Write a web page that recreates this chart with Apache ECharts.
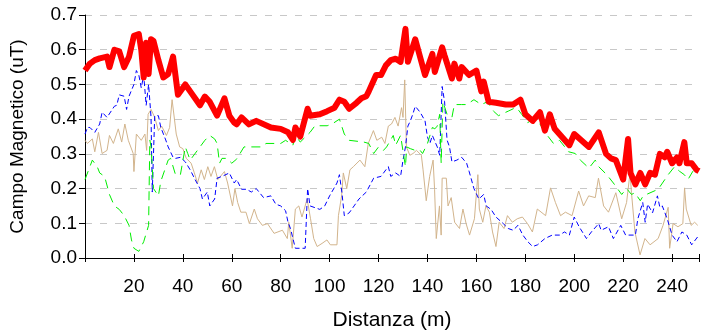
<!DOCTYPE html>
<html>
<head>
<meta charset="utf-8">
<script src="https://cdn.jsdelivr.net/npm/echarts@6/dist/echarts.min.js"></script>
<style>
html,body{margin:0;padding:0;background:#fff;}
#chart{width:702px;height:336px;}
</style>
</head>
<body>
<div id="chart"></div>
<script>
// ---- data (distance m, field uT) ----
var redX = [0,1,2,4,6,9,10,12,14,16,18,20,22,23,24,25,26,27,28,30,32,34,36,38,41,43,47,49,51,54,57,59,61,62,64,67,70,76,80,83,85,86,88,91,92,96,99,102,104,106,108,111,113,115,116,119,121,123,125,127,129,131,132,135,139,142,143,146,147,150,151,153,154,157,160,162,163,165,168,172,175,178,180,183,186,188,190,192,198,200,206,210,213,215,217,220,222,223,225,227,229,231,233,235,237,238,240,242,243,245,246,248,250,251];
var redY = [0.54,0.55,0.56,0.57,0.575,0.58,0.55,0.60,0.595,0.55,0.58,0.64,0.645,0.60,0.52,0.62,0.53,0.63,0.625,0.57,0.52,0.53,0.58,0.47,0.50,0.48,0.44,0.465,0.45,0.41,0.46,0.41,0.39,0.385,0.405,0.385,0.395,0.376,0.372,0.362,0.34,0.376,0.35,0.43,0.41,0.414,0.423,0.433,0.456,0.45,0.43,0.447,0.46,0.466,0.48,0.527,0.527,0.555,0.57,0.574,0.565,0.66,0.565,0.63,0.527,0.588,0.536,0.607,0.583,0.517,0.56,0.517,0.55,0.527,0.54,0.48,0.508,0.45,0.447,0.442,0.442,0.456,0.414,0.395,0.42,0.367,0.414,0.372,0.325,0.357,0.32,0.362,0.30,0.287,0.282,0.226,0.343,0.245,0.212,0.245,0.212,0.245,0.24,0.30,0.29,0.306,0.273,0.29,0.273,0.334,0.273,0.273,0.254,0.25];

var blueX = [0,1,2,4,6,7,9,12,13,14,16,17,18,20,21,22,23,24,25,26,27,27.5,28.5,30,31,33,34,36,37,39,41,43,45,47,48,50,51,53,54,56,59,61,62,64,66,68,70,73,76,78,80,82,83,84,85,86,88,90,91,92,96,98,100,103,104,105,106,108,110,112,115,118,121,123,124,125,127,129,130,131,132,133,134,135,137,139,140,141,142,144,145,146,147,148,149,150,152,154,156,157,159,161,163,164,166,168,171,173,175,177,179,181,183,185,188,191,194,196,198,200,202,205,207,210,211,214,216,219,221,225,226,228,229,230,232,234,235,236,238,240,242,244,246,248,251];
var blueY = [0.357,0.376,0.376,0.362,0.386,0.42,0.405,0.437,0.44,0.47,0.466,0.428,0.466,0.50,0.54,0.527,0.49,0.527,0.44,0.50,0.405,0.19,0.41,0.41,0.376,0.34,0.32,0.29,0.287,0.29,0.277,0.254,0.226,0.20,0.17,0.19,0.15,0.17,0.23,0.235,0.245,0.216,0.226,0.198,0.198,0.19,0.20,0.174,0.179,0.155,0.15,0.136,0.103,0.085,0.056,0.028,0.028,0.028,0.20,0.15,0.14,0.15,0.179,0.216,0.24,0.19,0.122,0.13,0.15,0.17,0.19,0.23,0.235,0.254,0.263,0.235,0.245,0.235,0.282,0.32,0.38,0.395,0.414,0.437,0.42,0.395,0.348,0.33,0.353,0.32,0.296,0.494,0.45,0.34,0.32,0.277,0.282,0.29,0.273,0.25,0.20,0.17,0.183,0.15,0.14,0.118,0.099,0.085,0.08,0.094,0.066,0.047,0.033,0.038,0.056,0.066,0.066,0.075,0.066,0.118,0.09,0.056,0.075,0.099,0.08,0.09,0.056,0.094,0.066,0.066,0.113,0.16,0.103,0.155,0.13,0.179,0.146,0.15,0.113,0.066,0.047,0.075,0.066,0.038,0.066];

var greenX = [0,3,5,6,8,10,12,14,16,18,19,20,22,24,26,26.5,27,28,30,31,34,35,37,39,41,42,43,47,49,51,53,54,55,56,58,60,62,65,72,74,78,80,82,85,86,88,92,94,99,101,104,106,108,114,116,118,120,122,123.3,126,127,129,131,131.5,133,135,137,138,140,142,143,144,145,145.6,146.3,148,150,151,154,156,159,162,164.5,167,169,173,176,177,178.5,181,183,186,187.5,191.5,194,197.7,200.4,202.5,206,208.6,210,213.3,216,219.4,221.4,223.4,224.8,227,228.2,234.3,238.4,241,243,245,246.5,248.5,250.5];
var greenY = [0.226,0.282,0.263,0.245,0.235,0.183,0.15,0.14,0.122,0.094,0.052,0.028,0.019,0.047,0.094,0.34,0.32,0.20,0.179,0.221,0.282,0.287,0.24,0.24,0.32,0.301,0.282,0.32,0.339,0.353,0.343,0.33,0.273,0.287,0.287,0.273,0.285,0.32,0.32,0.33,0.33,0.33,0.339,0.325,0.353,0.334,0.362,0.381,0.381,0.386,0.40,0.357,0.339,0.334,0.33,0.301,0.32,0.31,0.32,0.353,0.325,0.353,0.263,0.32,0.315,0.31,0.31,0.301,0.33,0.376,0.372,0.38,0.414,0.273,0.45,0.414,0.405,0.442,0.442,0.442,0.456,0.442,0.45,0.423,0.41,0.423,0.433,0.428,0.414,0.39,0.40,0.386,0.367,0.33,0.339,0.306,0.301,0.282,0.259,0.282,0.263,0.24,0.216,0.183,0.20,0.183,0.188,0.165,0.179,0.198,0.24,0.263,0.25,0.24,0.226,0.25,0.263];

var tanX = [0,1,3,4,5.5,7,9,10,11.6,13.6,15,16.3,17.7,19.7,20,21,23,24.5,25.2,25.8,27,28.5,30,31.3,33.3,34.6,35.6,37.3,38.7,40,41.4,43.4,44.7,46,47.5,48.8,50.2,51.5,52.9,54.3,57,58.3,60.3,61.3,62.4,63.7,64.4,65.8,67.2,69.2,70.5,72.5,74.6,77.3,80.7,82.7,83.3,84,84.7,86,87.4,88.7,90,90.8,92.2,93.5,94.9,96.9,98.9,100.3,103,103.6,104.9,105.6,107,108.3,109.7,112.4,114.4,115.8,117.9,119.3,121.3,122.6,124,125.3,126.7,128,129.4,130,130.7,131.4,132.8,134.1,135.5,137.5,138.2,139.5,140.9,142.3,142.9,143.6,144.9,145.6,146,147.7,148.4,149.7,151.1,153.1,154.5,155.8,157.2,159.2,160.6,161.2,162.6,163.9,165.3,166.6,168,169.3,171.3,172.7,174.7,176.7,178.8,180.9,182.9,184.9,188.3,190.3,192.3,194.4,196.4,199.1,201.8,203.8,205.9,208.6,209.9,212,214,217,219.4,221.4,222.8,223.4,224.8,226.9,228.9,231,234.3,236.3,238.4,239,240.4,242.4,244.4,245.1,245.8,247.8,249.2,250.5];
var tanY = [0.339,0.33,0.343,0.306,0.362,0.301,0.31,0.353,0.33,0.372,0.334,0.386,0.339,0.301,0.249,0.357,0.339,0.357,0.31,0.414,0.428,0.405,0.367,0.38,0.353,0.376,0.456,0.357,0.32,0.315,0.287,0.273,0.245,0.216,0.254,0.226,0.263,0.235,0.263,0.226,0.249,0.216,0.15,0.20,0.16,0.132,0.127,0.132,0.099,0.141,0.113,0.094,0.099,0.071,0.08,0.056,0.103,0.066,0.028,0.141,0.15,0.118,0.15,0.17,0.113,0.056,0.033,0.042,0.052,0.038,0.038,0.122,0.179,0.245,0.20,0.254,0.263,0.282,0.263,0.33,0.367,0.339,0.348,0.33,0.38,0.386,0.405,0.38,0.433,0.405,0.513,0.32,0.296,0.301,0.31,0.296,0.254,0.165,0.235,0.282,0.198,0.056,0.15,0.066,0.23,0.23,0.15,0.174,0.103,0.085,0.141,0.099,0.066,0.113,0.24,0.141,0.103,0.15,0.132,0.075,0.033,0.103,0.085,0.122,0.103,0.113,0.118,0.099,0.075,0.141,0.122,0.202,0.16,0.122,0.132,0.122,0.193,0.15,0.179,0.174,0.23,0.15,0.132,0.188,0.113,0.16,0.245,0.188,0.075,0.009,0.056,0.038,0.056,0.094,0.146,0.028,0.099,0.09,0.099,0.202,0.141,0.094,0.103,0.094];

var xTicks = [20,40,60,80,100,120,140,160,180,200,220,240];
var yTicks = [0.0,0.1,0.2,0.3,0.4,0.5,0.6,0.7];

function pairs(xs, ys){ var out=[]; for(var i=0;i<xs.length;i++) out.push([xs[i], ys[i]]); return out; }

var FONT = '"Liberation Sans", Arial, sans-serif';
var chart = echarts.init(document.getElementById('chart'), null, {renderer:'canvas'});
var xCommon = {type:'value', min:0, max:251, interval:20};
var yCommon = {type:'value', min:0, max:0.7, interval:0.1};
chart.setOption({
  animation:false,
  backgroundColor:'#ffffff',
  grid:{left:84, right:0, top:15, bottom:73, containLabel:false},
  xAxis:[
    Object.assign({}, xCommon, {
      position:'bottom',
      name:'Distanza (m)', nameLocation:'middle', nameGap:52,
      nameTextStyle:{fontFamily:FONT, fontSize:21, color:'#000'},
      axisLine:{show:true, onZero:false, lineStyle:{color:'#000', width:1}},
      axisTick:{show:true, inside:false, length:4, lineStyle:{color:'#000'}},
      axisLabel:{fontFamily:FONT, fontSize:19, color:'#000', margin:19,
        formatter:function(v){ return xTicks.indexOf(v)>=0 ? String(v) : ''; }},
      splitLine:{show:false}
    }),
    Object.assign({}, xCommon, {
      position:'bottom', axisLine:{show:false},
      axisTick:{show:true, inside:true, length:4, lineStyle:{color:'#000'}},
      axisLabel:{show:false}, splitLine:{show:false}
    })
  ],
  yAxis:[
    Object.assign({}, yCommon, {
      name:'Campo Magnetico (uT)', nameLocation:'middle', nameGap:58,
      nameTextStyle:{fontFamily:FONT, fontSize:19, color:'#000'},
      axisLine:{show:true, onZero:false, lineStyle:{color:'#000', width:1}},
      axisTick:{show:true, inside:false, length:4, lineStyle:{color:'#000'}},
      axisLabel:{fontFamily:FONT, fontSize:19, color:'#000', margin:8,
        formatter:function(v){ return v.toFixed(1); }},
      splitLine:{show:true, lineStyle:{color:'#c8c8c8', type:[7,8], width:1}}
    }),
    Object.assign({}, yCommon, {
      axisLine:{show:false},
      axisTick:{show:true, inside:true, length:6, lineStyle:{color:'#000'}},
      axisLabel:{show:false}, splitLine:{show:false}
    })
  ],
  series:[
    {type:'line', name:'tan', data:pairs(tanX, tanY), showSymbol:false, symbol:'none',
     lineStyle:{color:'#d2b48c', width:1}, z:2},
    {type:'line', name:'blue', data:pairs(blueX, blueY), showSymbol:false, symbol:'none',
     lineStyle:{color:'#0000ff', width:1, type:[5,3]}, z:3},
    {type:'line', name:'green', data:pairs(greenX, greenY), showSymbol:false, symbol:'none',
     lineStyle:{color:'#00ee00', width:1, type:[9,6]}, z:4},
    {type:'line', name:'red', data:pairs(redX, redY), showSymbol:false, symbol:'none',
     lineStyle:{color:'#ff0000', width:6, join:'round'}, z:5}
  ]
});
</script>
</body>
</html>
